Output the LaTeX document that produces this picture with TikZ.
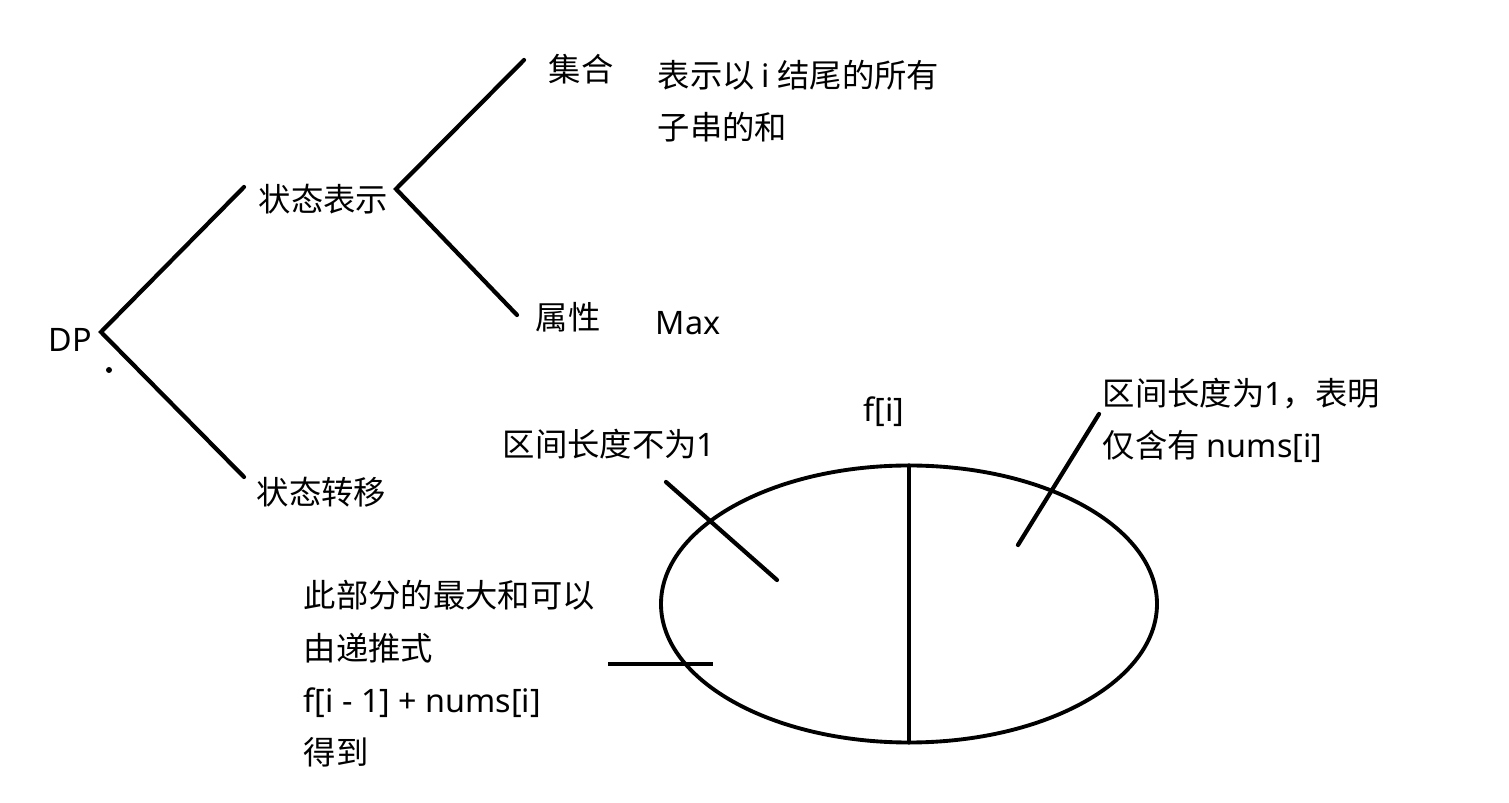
\documentclass[tikz,border=0pt]{standalone}
\usepackage{fontspec}
\setmainfont{Noto Sans CJK SC}
\newfontfamily\latinfont{Noto Sans}
\newcommand{\lat}[1]{{\latinfont #1}}
\usetikzlibrary{shapes.geometric}

\tikzset{
  label text/.style={inner sep=0pt, anchor=base west, font=\fontsize{9.2}{14.9}\selectfont},
  para text/.style={label text, align=left},
  branch/.style={line width=1.2pt, line cap=round},
}

\begin{document}
\begin{tikzpicture}
  \useasboundingbox (0,0) rectangle (15.09,-8.03);

  % tree labels (para text sits on its last line)
  \node[label text] (dp) at (0.48,-3.52) {\lat{DP}};
  \node[label text] (state) at (2.58,-2.12) {状态表示};
  \node[label text] (trans) at (2.56,-5.05) {状态转移};
  \node[label text] (set) at (5.48,-0.82) {集合};
  \node[label text] (attr) at (5.35,-3.30) {属性};
  \node[para text] (setdesc) at (6.57,-1.40) {表示以 \lat{i} 结尾的所有\\子串的和};
  \node[label text] (attrval) at (6.55,-3.35) {\lat{Max}};

  % branch points
  \coordinate (dpfork) at (1.01,-3.32);
  \coordinate (stateend) at (2.44,-1.87);
  \coordinate (transend) at (2.44,-4.77);
  \coordinate (statefork) at (3.96,-1.89);
  \coordinate (setend) at (5.24,-0.60);
  \coordinate (attrend) at (5.17,-3.15);

  \draw[branch] (stateend) -- (dpfork) -- (transend);
  \draw[branch] (setend) -- (statefork) -- (attrend);
  \fill (1.09,-3.70) circle (0.03);

  % f[i] split into two parts
  \node[draw, ellipse, line width=1.1pt, minimum width=4.96cm, minimum height=2.77cm, inner sep=0pt, outer sep=0pt] (fi) at (9.09,-6.04) {};
  \draw[branch] (fi.north) -- (fi.south);
  \node[label text] (finame) at (8.63,-4.22) {\lat{f[i]}};

  \node[label text] (longpart) at (5.02,-4.57) {区间长度不为\lat{1}};
  \node[para text] (onepart) at (11.02,-4.58) {区间长度为\lat{1}，表明\\仅含有 \lat{nums[i]}};
  \node[para text] (recur) at (3.03,-7.65) {此部分的最大和可以\\由递推式\\\lat{f[i - 1] + nums[i]}\\得到};

  % pointers
  \coordinate (longtip) at (6.66,-4.82);
  \coordinate (longin) at (7.77,-5.80);
  \coordinate (onetip) at (10.99,-4.14);
  \coordinate (onein) at (10.18,-5.45);
  \coordinate (recurtip) at (6.08,-6.64);
  \coordinate (recurin) at (7.13,-6.64);

  \draw[branch] (longtip) -- (longin);
  \draw[branch] (onetip) -- (onein);
  \draw[branch, line cap=butt] (recurtip) -- (recurin);
\end{tikzpicture}
\end{document}
